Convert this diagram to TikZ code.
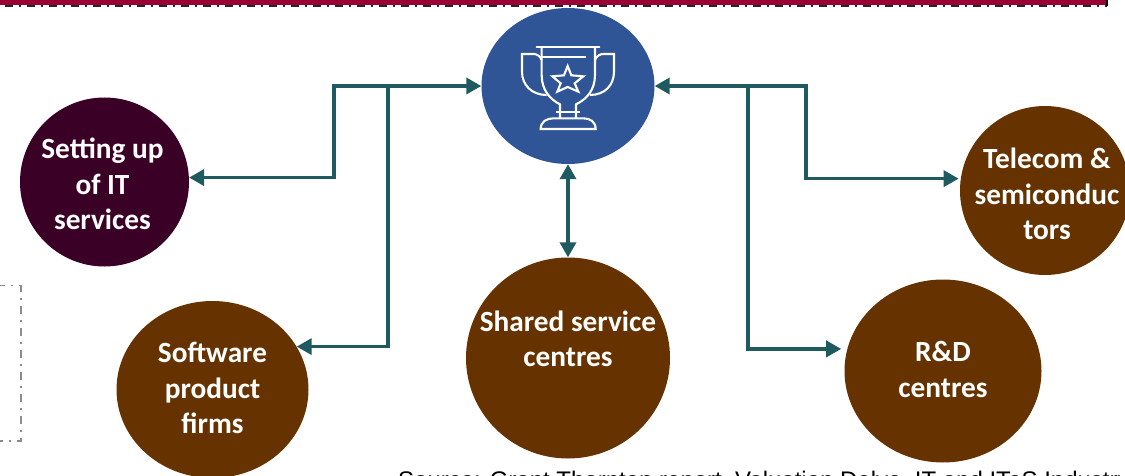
\documentclass[tikz,border=0pt]{standalone}
\usepackage{fontspec}
\setmainfont{Carlito}
\newfontfamily\arialfont{Liberation Sans}
\usetikzlibrary{shapes.geometric,arrows.meta}
\definecolor{hubblue}{HTML}{2F5597}
\definecolor{plum}{HTML}{3B0026}
\definecolor{brownc}{HTML}{663300}
\definecolor{linkc}{HTML}{1F5A60}
\definecolor{crimson}{HTML}{990033}
\tikzset{
  circ/.style={ellipse,inner sep=0pt},
  circtext/.style={text=white,align=center,inner sep=0pt,font=\fontsize{29.3}{35.3}\selectfont\bfseries},
  link/.style={draw=linkc,line width=3.5pt,{Triangle[length=15pt,width=16pt]}-{Triangle[length=15pt,width=16pt]}},
  branch/.style={draw=linkc,line width=3.5pt,-{Triangle[length=15pt,width=16pt]}},
  trophy/.style={draw=white,line width=2.1pt,line join=miter},
  dashbox/.style={draw=gray!90,line width=1.8pt,dash pattern=on 8pt off 6pt on 2pt off 6pt},
}
\begin{document}
\begin{tikzpicture}[x=1pt,y=-1pt]
\useasboundingbox (0,0) rectangle (1125,476);
\clip (0,0) rectangle (1125,476);
\fill[white] (0,0) rectangle (1125,476);
% top band
\fill[crimson] (0,0) rectangle (1107,5.5);
\draw[black!85,line width=1.8pt,dash pattern=on 8pt off 6pt on 2pt off 6pt,dash phase=17pt] (0,5.8) -- (1107,5.8);
\draw[black,line width=1.5pt] (1107,0) -- (1107,6.5);
% dashed box
\draw[dashbox,dash phase=3pt] (0,285.5) -- (21,285.5) -- (21,441) -- (0,441);
% nodes
\node[circ,fill=hubblue,minimum width=173pt,minimum height=156pt] (hub) at (568,86) {};
\node[circ,fill=plum,minimum width=169pt,minimum height=169pt,label={[circtext,xshift=-2pt,yshift=-2pt]center:{Setting up\\of IT\\services}}] (setup) at (104.5,182) {};
\node[circ,fill=brownc,minimum width=192pt,minimum height=177pt,label={[circtext,yshift=1.5pt]center:{Software\\product\\firms}}] (soft) at (212.5,389.5) {};
\node[circ,fill=brownc,minimum width=204pt,minimum height=201pt,label={[circtext,yshift=19.5pt]center:{Shared service\\centres}}] (shared) at (568,358) {};
\node[circ,fill=brownc,minimum width=197pt,minimum height=183pt,label={[circtext,yshift=1.5pt]center:{R\&D\\centres}}] (rd) at (943,371) {};
\node[circ,fill=brownc,minimum width=170pt,minimum height=169pt,label={[circtext,xshift=2pt,yshift=-3.5pt]center:{Telecom \&\\semiconduc\\tors}}] (tel) at (1045,190.5) {};
% junctions
\coordinate (ja) at (334,86);
\coordinate (jb) at (388,86);
\coordinate (jc) at (748,86);
\coordinate (jd) at (806,86);
% connectors
\draw[link] (hub.west) -- (ja) |- (setup.3);
\draw[branch] (jb) |- (soft.27);
\draw[link,shorten >=2pt] (hub.east) -- (jd) |- (tel.172);
\draw[branch,shorten >=6pt] (jc) |- (rd.167);
\draw[link] (hub.south) -- (shared.north);
% trophy
\begin{scope}[shift={(450,0)},x=0.3333pt,y=-0.3333pt]
\draw[trophy,line cap=round] (260,142) -- (448,142);
\draw[trophy] (275,142) -- (275,225) .. controls (275,270) and (300,298) .. (330,313) -- (330,355);
\draw[trophy] (435,142) -- (435,225) .. controls (435,270) and (410,298) .. (378,313) -- (378,355);
\draw[trophy] (275,172) -- (408,172);
\draw[trophy] (275,180) .. controls (270,168) and (262,162) .. (250,162) -- (216,162) -- (216,215) .. controls (216,255) and (245,285) .. (290,285);
\draw[trophy] (435,180) .. controls (440,168) and (450,162) .. (460,162) -- (492,162) -- (492,215) .. controls (492,255) and (465,285) .. (420,285);
\draw[trophy] (318,335) -- (390,335);
\draw[trophy] (272,387) -- (437,387) .. controls (437,365) and (420,355) .. (400,355) -- (310,355) .. controls (290,355) and (272,365) .. (272,387) -- cycle;
\draw[trophy] (353,198) -- (364,226) -- (400,229) -- (374,250) -- (385,275) -- (353,261) -- (322,275) -- (332,250) -- (307,229) -- (342,226) -- cycle;
\end{scope}
% footer (clipped by the frame, as in the reference)
\node[anchor=base west,inner sep=0pt,font=\arialfont\fontsize{24}{28}\selectfont] (src) at (398,488) {Source: Grant Thornton report, Valuation Delve, IT and ITeS Industry};
\end{tikzpicture}
\end{document}
